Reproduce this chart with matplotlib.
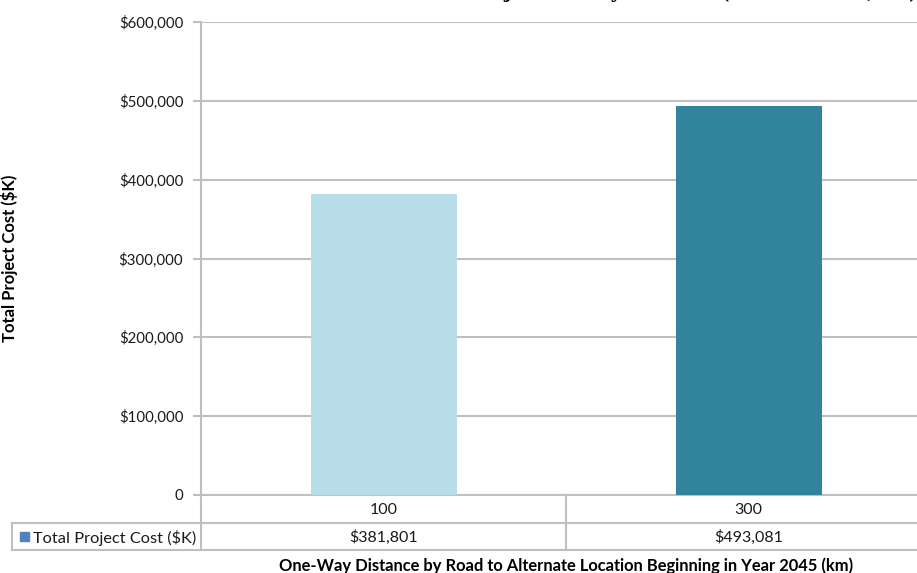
import matplotlib
matplotlib.use("Agg")
import matplotlib.pyplot as plt
from matplotlib.lines import Line2D
from matplotlib.ticker import FuncFormatter, MultipleLocator

# Data
categories = ["100", "300"]
costs = [381801, 493081]
series_name = "Total Project Cost ($K)"
bar_colors = ["#B7DDE8", "#31849B"]
legend_key_color = "#4F81BD"

W, H = 917, 573
plt.rcParams["font.family"] = ["Lato", "DejaVu Sans"]

fig = plt.figure(figsize=(W / 100, H / 100), dpi=100)


def fx(px):
    return px / W


def fy(py):
    return 1 - py / H


# Plot area (right edge runs past the canvas)
ax_left, ax_right, ax_top, ax_bottom = 201, 931, 22, 495
ax = fig.add_axes([fx(ax_left), fy(ax_bottom), fx(ax_right - ax_left), fy(ax_top) - fy(ax_bottom)])

x = list(range(len(categories)))
ax.bar(x, costs, width=0.4, color=bar_colors, zorder=3)
ax.set_xlim(-0.5, len(categories) - 0.5)
ax.set_ylim(0, 600000)
ax.yaxis.set_major_locator(MultipleLocator(100000))
ax.yaxis.set_major_formatter(FuncFormatter(lambda v, p: "0" if v == 0 else f"${v:,.0f}"))

grid_color = "#BFBFBF"
text_color = "#1a1a1a"
ax.grid(axis="y", color=grid_color, linewidth=1.5, zorder=0)
ax.set_xticks([])
for side in ["top", "right"]:
    ax.spines[side].set_visible(False)
ax.spines["left"].set_color(grid_color)
ax.spines["left"].set_linewidth(1.5)
ax.spines["bottom"].set_color(grid_color)
ax.spines["bottom"].set_linewidth(1.5)
ax.tick_params(axis="y", length=5.8, width=1.5, color=grid_color, labelsize=10.8, pad=7, labelcolor=text_color)

ax.set_ylabel("Total Project Cost ($K)", fontsize=12, fontweight="bold", labelpad=0)
ax.yaxis.set_label_coords(fx(18 - ax_left) / fx(ax_right - ax_left), 0.5)

# Data table below the plot area
line_kw = dict(color=grid_color, linewidth=1.5, transform=fig.transFigure, clip_on=False)
row1_bot, row2_bot = 523, 550
table_left = 12
cat_w = (ax_right - ax_left) / len(categories)
fig.add_artist(Line2D([fx(table_left), fx(ax_right)], [fy(row1_bot)] * 2, **line_kw))
fig.add_artist(Line2D([fx(table_left), fx(ax_right)], [fy(row2_bot)] * 2, **line_kw))
fig.add_artist(Line2D([fx(table_left)] * 2, [fy(row1_bot), fy(row2_bot)], **line_kw))
for i in range(len(categories) + 1):
    xx = ax_left + i * cat_w
    fig.add_artist(Line2D([fx(xx)] * 2, [fy(ax_bottom), fy(row2_bot)], **line_kw))

for i, (cat, val) in enumerate(zip(categories, costs)):
    cx = ax_left + (i + 0.5) * cat_w
    fig.text(fx(cx), fy((ax_bottom + row1_bot) / 2 + 1), cat, ha="center", va="center", fontsize=11.5, color=text_color)
    fig.text(fx(cx), fy((row1_bot + row2_bot) / 2 + 1), f"${val:,}", ha="center", va="center", fontsize=11.5, color=text_color)

# Row header with legend key
fig.patches.append(plt.Rectangle((fx(20), fy(541)), fx(9), fy(532) - fy(541),
                                 transform=fig.transFigure, color=legend_key_color))
fig.text(fx(33), fy((row1_bot + row2_bot) / 2 + 1), series_name, ha="left", va="center", fontsize=11.8, color=text_color)

fig.text(fx(566), fy(566), "One-Way Distance by Road to Alternate Location Beginning in Year 2045 (km)",
         ha="center", va="center", fontsize=11.9, fontweight="bold")

# Title above the chart
fig.text(fx(917), fy(-2.5), "Total Project Cost by Distance (Present Value, $K)", ha="right", va="baseline",
         fontsize=17, fontweight="bold", family=["Liberation Serif", "DejaVu Serif"])

fig.savefig("out.png", dpi=100)
